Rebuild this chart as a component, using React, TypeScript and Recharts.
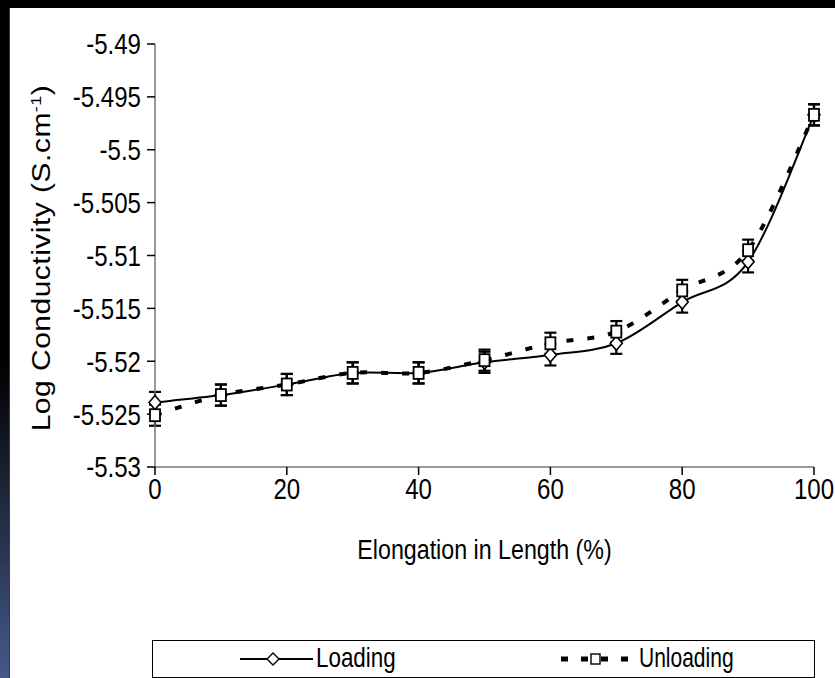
import React from 'react';
import { LineChart, Line, XAxis, YAxis, ErrorBar, Legend } from 'recharts';

// Elongation steps (%) and log conductivity readings for each cycle
const elongation = [0, 10, 20, 30, 40, 50, 60, 70, 80, 90, 100];
const loading = [-5.5239, -5.5232, -5.5222, -5.5211, -5.5211, -5.5201, -5.5194, -5.5183, -5.5144, -5.5106, -5.4967];
const unloading = [-5.5251, -5.5232, -5.5222, -5.5211, -5.5211, -5.5199, -5.5183, -5.5172, -5.5133, -5.5095, -5.4967];
const loadingErr = [0.001, 0.001, 0.001, 0.001, 0.001, 0.001, 0.001, 0.001, 0.001, 0.001, 0.001];
const unloadingErr = [0.001, 0.001, 0.001, 0.001, 0.001, 0.001, 0.001, 0.001, 0.001, 0.001, 0.001];
const xTicks = [0, 20, 40, 60, 80, 100];
const yTicks = [-5.53, -5.525, -5.52, -5.515, -5.51, -5.505, -5.5, -5.495, -5.49];

const rows = elongation.map((x, i) => ({
  x,
  loading: loading[i],
  unloading: unloading[i],
  loadingErr: loadingErr[i],
  unloadingErr: unloadingErr[i],
}));

const FONT = "'Liberation Sans', Arial, sans-serif";
// condensed lettering: glyphs are squeezed horizontally
const SQUEEZE = 0.83;
const TICK_SIZE = 29;

// Smoothed line (Catmull-Rom through every point), like a spreadsheet "smoothed line"
const smoothCurve: any = (context: any) => {
  let pts: number[][] = [];
  return {
    areaStart() {},
    areaEnd() {},
    lineStart() {
      pts = [];
    },
    lineEnd() {
      if (!pts.length) return;
      context.moveTo(pts[0][0], pts[0][1]);
      for (let i = 0; i < pts.length - 1; i++) {
        const p0 = pts[i - 1] || pts[i];
        const p1 = pts[i];
        const p2 = pts[i + 1];
        const p3 = pts[i + 2] || p2;
        context.bezierCurveTo(
          p1[0] + (p2[0] - p0[0]) / 6,
          p1[1] + (p2[1] - p0[1]) / 6,
          p2[0] - (p3[0] - p1[0]) / 6,
          p2[1] - (p3[1] - p1[1]) / 6,
          p2[0],
          p2[1]
        );
      }
    },
    point(x: number, y: number) {
      pts.push([+x, +y]);
    },
  };
};

const YTick = (props: any) => {
  const { x, y, payload } = props;
  return (
    <text
      x={0}
      y={0}
      dy="0.36em"
      transform={`translate(${x},${y}) scale(${SQUEEZE},1)`}
      textAnchor="end"
      style={{ fontFamily: FONT, fontSize: TICK_SIZE, fill: '#000' }}
    >
      {String(payload.value)}
    </text>
  );
};

const XTick = (props: any) => {
  const { x, y, payload } = props;
  return (
    <text
      x={0}
      y={0}
      dy="0.71em"
      transform={`translate(${x},${y}) scale(${SQUEEZE},1)`}
      textAnchor="middle"
      style={{ fontFamily: FONT, fontSize: TICK_SIZE, fill: '#000' }}
    >
      {String(payload.value)}
    </text>
  );
};

const DiamondDot = (props: any) => {
  const { cx, cy } = props;
  if (cx == null || cy == null) return null;
  return (
    <polygon
      points={`${cx},${cy - 7} ${cx + 6},${cy} ${cx},${cy + 7} ${cx - 6},${cy}`}
      fill="#fff"
      stroke="#000"
      strokeWidth={1.6}
    />
  );
};

const SquareDot = (props: any) => {
  const { cx, cy } = props;
  if (cx == null || cy == null) return null;
  return <rect x={cx - 5} y={cy - 6} width={10} height={12} fill="#fff" stroke="#000" strokeWidth={1.8} />;
};

const XTitle = (props: any) => {
  const vb = props.viewBox || { x: 155, y: 467, width: 659, height: 60 };
  const cx = vb.x + vb.width / 2;
  const cy = vb.y + 82;
  return (
    <text
      x={0}
      y={0}
      dy="0.36em"
      transform={`translate(${cx},${cy}) scale(${SQUEEZE},1)`}
      textAnchor="middle"
      style={{ fontFamily: FONT, fontSize: 28, fill: '#000' }}
    >
      Elongation in Length (%)
    </text>
  );
};

const YTitle = () => {
  const cx = 41;
  const cy = 258;
  return (
    <text
      x={0}
      y={0}
      dy="0.36em"
      transform={`translate(${cx},${cy}) rotate(-90) scale(1,${SQUEEZE})`}
      textAnchor="middle"
      style={{ fontFamily: FONT, fontSize: 30, letterSpacing: 0.5, fill: '#000' }}
    >
      Log Conductivity (S.cm
      <tspan dy={-11} fontSize={18}>
        -1
      </tspan>
      <tspan dy={11}>)</tspan>
    </text>
  );
};

const legendText = (squeeze: number) => ({
  position: 'absolute' as const,
  top: 1,
  fontFamily: FONT,
  fontSize: 28,
  lineHeight: '32px',
  color: '#000',
  transform: `scaleX(${squeeze})`,
  transformOrigin: 'left center',
  whiteSpace: 'nowrap' as const,
});

const renderLegend = () => (
  <div
    style={{
      position: 'relative',
      width: 663,
      height: 38,
      boxSizing: 'border-box',
      border: '1px solid #000',
      background: '#fff',
    }}
  >
    <svg style={{ position: 'absolute', left: 87, top: 4 }} width={73} height={28}>
      <line x1={0} y1={14} x2={73} y2={14} stroke="#000" strokeWidth={2} />
      <polygon points="33,8 39,14 33,20 27,14" fill="#fff" stroke="#000" strokeWidth={1.4} />
    </svg>
    <span style={{ ...legendText(0.8), left: 163 }}>Loading</span>
    <svg style={{ position: 'absolute', left: 408, top: 4 }} width={72} height={28}>
      <line x1={0} y1={14} x2={72} y2={14} stroke="#000" strokeWidth={5} strokeDasharray="7 13" />
      <rect x={30} y={9} width={9} height={10} fill="#fff" stroke="#000" strokeWidth={1.4} />
    </svg>
    <span style={{ ...legendText(0.75), left: 486 }}>Unloading</span>
  </div>
);

export default function App() {
  return (
    <div style={{ position: 'fixed', left: 0, top: 0, width: 835, height: 678, background: '#fff', overflow: 'hidden' }}>
      <div style={{ position: 'absolute', left: 0, top: 0, width: 835, height: 8, background: '#000' }} />
      <div
        style={{
          position: 'absolute',
          left: 0,
          top: 0,
          width: 9,
          height: 678,
          background: 'linear-gradient(to bottom, #000 0%, #000 53%, #1a2130 70%, #45598a 100%)',
        }}
      />
      <div style={{ position: 'absolute', left: 9, top: 8, width: 1, height: 670, background: '#3a3a3a' }} />
      <div style={{ position: 'absolute', left: 0, top: 0 }}>
        <LineChart width={835} height={678} data={rows} margin={{ top: 44, right: 21, bottom: 151, left: 0 }}>
          <XAxis
            dataKey="x"
            type="number"
            domain={[0, 100]}
            ticks={xTicks}
            interval={0}
            height={60}
            tickSize={8}
            tickMargin={3}
            tick={<XTick />}
            axisLine={{ stroke: '#777', strokeWidth: 1.5 }}
            tickLine={{ stroke: '#000', strokeWidth: 1.5 }}
            label={{ content: XTitle }}
          />
          <YAxis
            type="number"
            domain={[-5.53, -5.49]}
            ticks={yTicks}
            interval={0}
            width={155}
            tickSize={8}
            tickMargin={6}
            tick={<YTick />}
            axisLine={{ stroke: '#777', strokeWidth: 1.5 }}
            tickLine={{ stroke: '#000', strokeWidth: 1.5 }}
            label={{ content: YTitle }}
          />
          <Legend
            layout="horizontal"
            verticalAlign="middle"
            align="center"
            content={renderLegend}
            wrapperStyle={{ left: 152, top: 640, width: 663, height: 38 }}
          />
          <Line
            dataKey="loading"
            name="Loading"
            type={smoothCurve}
            stroke="#000"
            strokeWidth={2}
            dot={<DiamondDot />}
            activeDot={false}
            isAnimationActive={false}
          >
            <ErrorBar dataKey="loadingErr" direction="y" width={6} stroke="#000" strokeWidth={2.2} />
          </Line>
          <Line
            dataKey="unloading"
            name="Unloading"
            type={smoothCurve}
            stroke="#000"
            strokeWidth={4}
            strokeDasharray="7 14"
            dot={<SquareDot />}
            activeDot={false}
            isAnimationActive={false}
          >
            <ErrorBar dataKey="unloadingErr" direction="y" width={6} stroke="#000" strokeWidth={2.2} />
          </Line>
        </LineChart>
      </div>
    </div>
  );
}
